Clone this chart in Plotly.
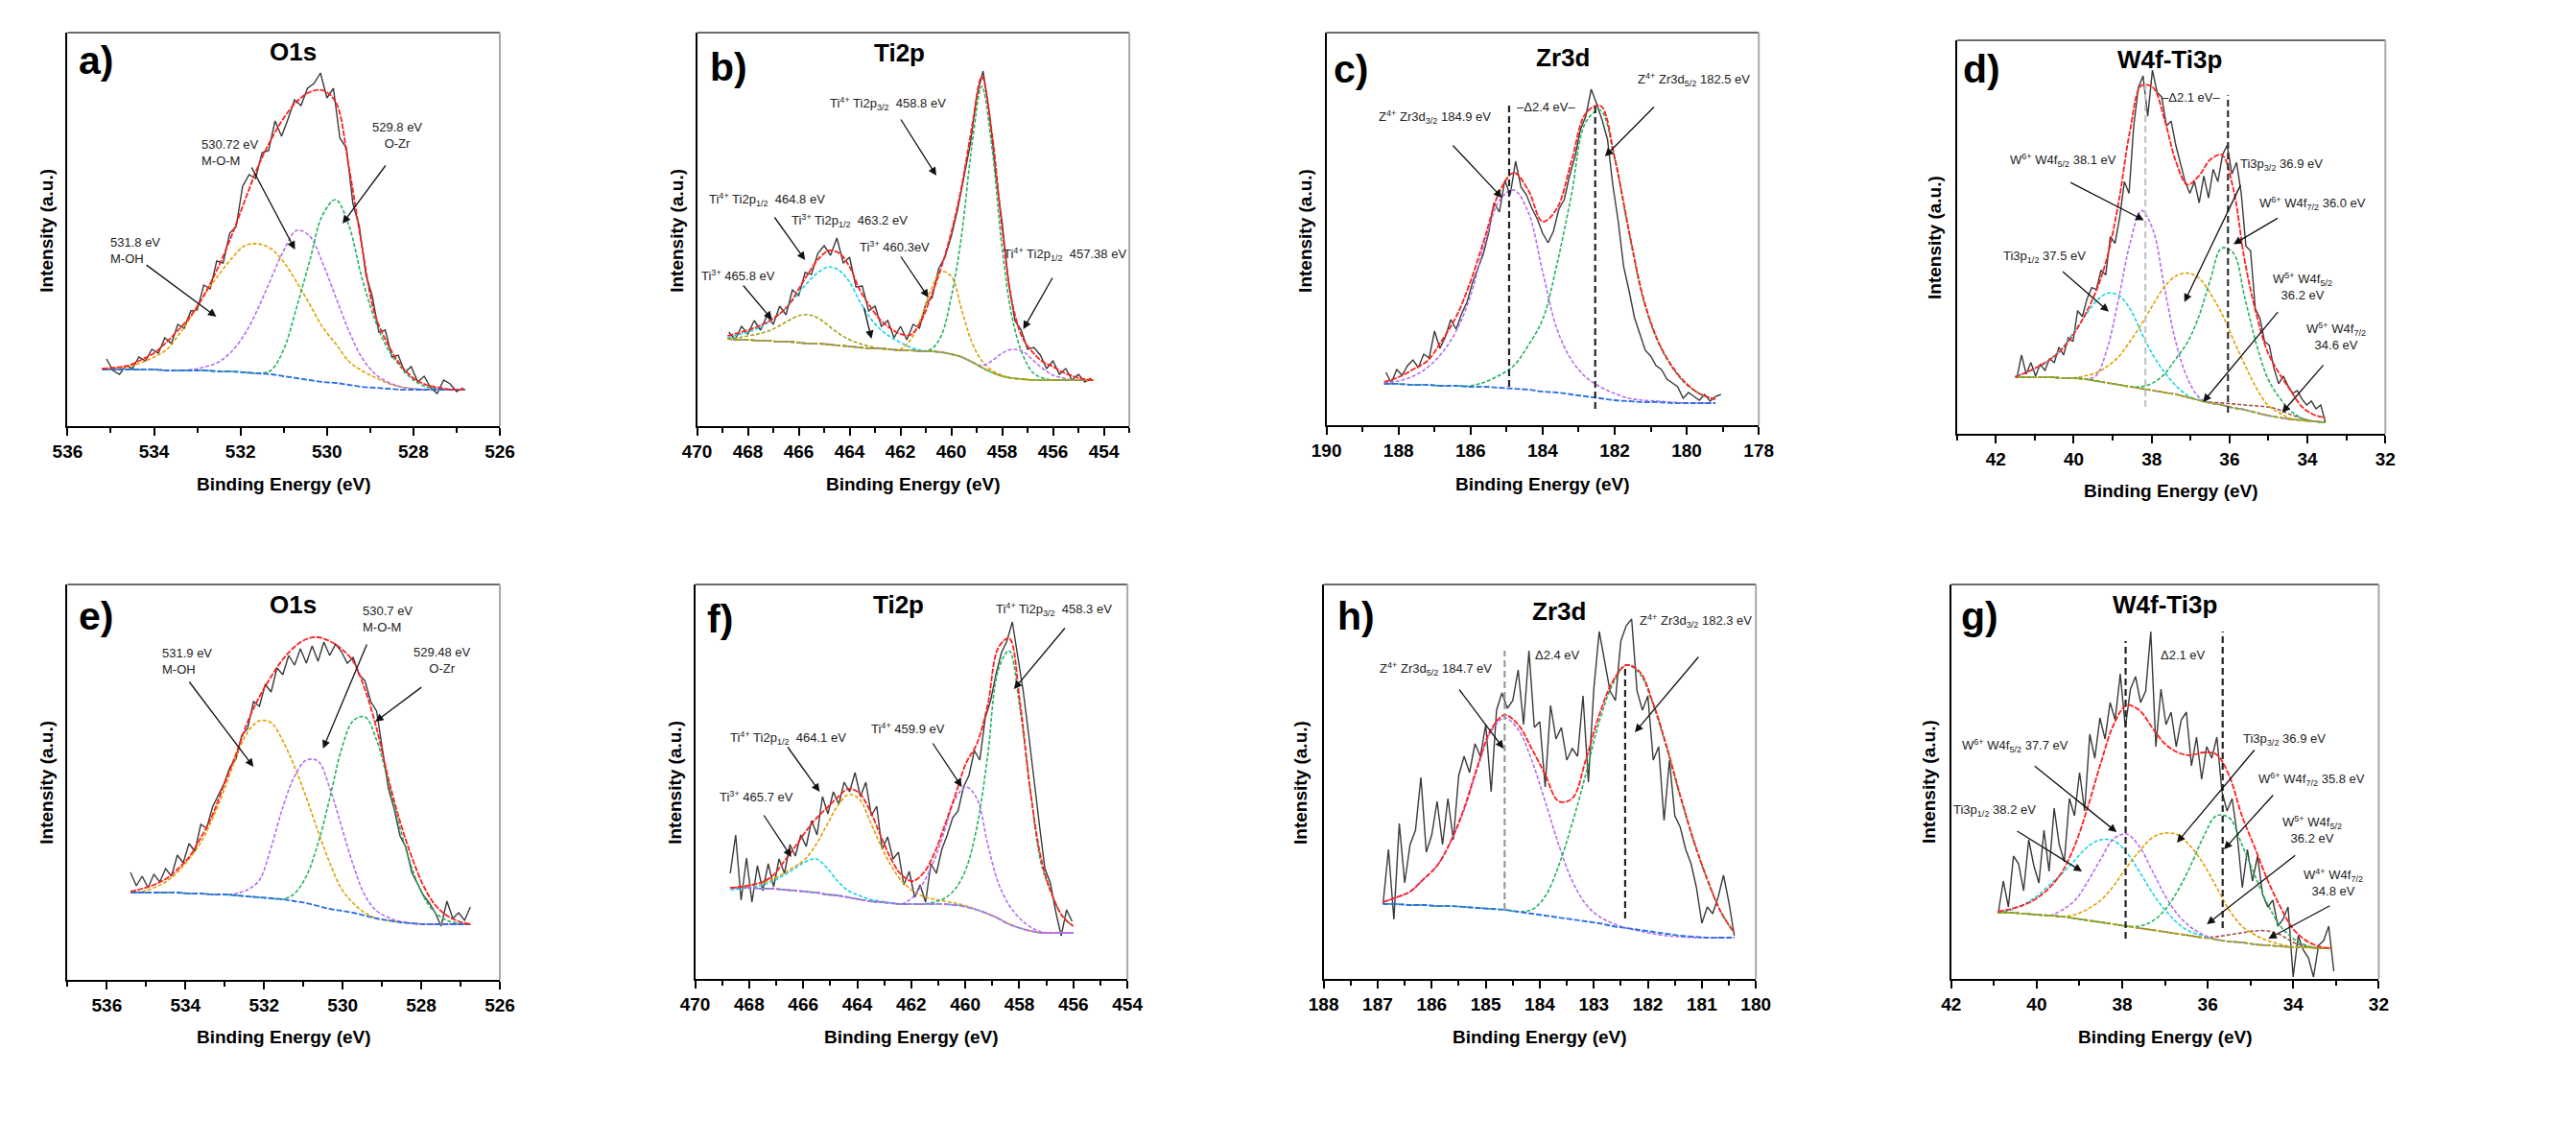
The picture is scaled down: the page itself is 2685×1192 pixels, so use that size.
import numpy as np
import plotly.graph_objects as go
from plotly.subplots import make_subplots

W, H = 2685, 1192
OFF = 8  # the page body adds an 8px margin around the figure
FONT = "Liberation Sans, Arial, sans-serif"

RED = "#ff1f1f"
ORANGE = "#e0a000"
PURPLE = "#b46ef0"
GREEN = "#22b35e"
CYAN = "#19d3e6"
BLUE = "#2a6ee8"
OLIVE = "#a3a21a"
BROWN = "#a0524a"
RAW = "#3a3a3a"

# ---------------- a) O1s (sample 1) ----------------
a_raw_span = (535.1, 526.85)
a_raw = [70, 58, 54, 63, 60, 72, 68, 80, 76, 92, 86, 106, 102, 120, 121, 147, 143, 172, 170, 201,
         208, 250, 262, 258, 285, 287, 318, 302, 320, 340, 334, 352, 357, 368, 342, 352, 300, 290, 232, 208,
         158, 135, 98, 100, 72, 74, 56, 62, 46, 52, 40, 34, 48, 44, 36, 40]
a_fit_span = (535.2, 526.8)
a_bg = [59, 59, 59, 59, 59, 58, 58, 58, 58, 57, 57, 56, 55, 54, 52, 50, 48, 46, 45, 43, 41, 40, 39, 38, 38, 38, 38, 38, 38]
a_env = [60, 61, 63, 69, 76, 88, 102, 118, 140, 167, 199, 235, 270, 298, 321, 338, 348, 350, 338, 272,
         190, 118, 86, 64, 50, 43, 40, 38, 38]
a_moh = [59, 60, 62, 66, 72, 80, 97, 117, 139, 158, 175, 188, 190, 185, 171, 150, 127, 103, 86, 68,
         58, 51, 45, 41, 39, 38, 38, 38, 38]
a_mom = [59, 59, 59, 59, 59, 58, 58, 59, 62, 67, 78, 96, 122, 153, 183, 204, 198, 170, 135, 100,
         72, 55, 46, 41, 39, 38, 38, 38, 38]
a_ozr = [59, 59, 59, 59, 59, 58, 58, 58, 58, 57, 57, 56, 55, 58, 80, 124, 172, 220, 236, 210,
         156, 112, 81, 62, 48, 41, 39, 38, 38]

# ---------------- b) Ti2p (sample 1) ----------------
b_raw_span = (468.75, 454.5)
b_raw = [98, 90, 104, 96, 110, 100, 115, 106, 125, 116, 142, 136, 160, 158, 180, 188, 178, 196, 170, 176,
         145, 146, 120, 125, 104, 110, 92, 104, 90, 106, 102, 128, 134, 164, 176, 198, 226, 262, 294, 344,
         370, 326, 262, 212, 150, 110, 100, 80, 82, 74, 60, 68, 54, 60, 48, 54, 46, 50]
b_fit_span = (468.8, 454.4)
b_bg = [91, 90, 90, 89, 89, 88, 88, 87, 86, 86, 85, 84, 83, 82, 81, 81, 80, 79, 79, 78,
        78, 77, 75, 72, 67, 61, 56, 52, 50, 49, 48, 48, 48, 48, 48, 48, 48]
b_env = [94, 97, 100, 104, 109, 116, 126, 143, 160, 175, 183, 180, 166, 142, 125, 111, 102, 96, 95, 109,
         135, 165, 202, 249, 310, 364, 305, 205, 128, 92, 77, 67, 62, 56, 52, 49, 48]
b_ti4_p12 = [92, 95, 98, 102, 108, 116, 126, 139, 151, 161, 166, 162, 150, 130, 113, 101, 93, 87, 82, 79,
             78, 77, 75, 72, 67, 61, 56, 52, 50, 49, 48, 48, 48, 48, 48, 48, 48]
b_ti3_4658 = [91, 92, 94, 96, 99, 104, 110, 115, 116, 112, 104, 96, 90, 86, 83, 81, 80, 79, 79, 78,
              78, 77, 75, 72, 67, 61, 56, 52, 50, 49, 48, 48, 48, 48, 48, 48, 48]
b_ti3_4603 = [91, 90, 90, 89, 89, 88, 88, 87, 86, 86, 85, 84, 83, 82, 81, 81, 80, 80, 90, 112,
              142, 161, 156, 122, 88, 68, 58, 53, 50, 49, 48, 48, 48, 48, 48, 48, 48]
b_ti4_p32 = [91, 90, 90, 89, 89, 88, 88, 87, 86, 86, 85, 84, 83, 82, 81, 81, 80, 79, 79, 78,
             80, 94, 135, 198, 290, 354, 290, 185, 112, 75, 56, 50, 48, 48, 48, 48, 48]
b_ti4_4574 = [91, 90, 90, 89, 89, 88, 88, 87, 86, 86, 85, 84, 83, 82, 81, 81, 80, 79, 79, 78,
              78, 77, 75, 72, 67, 63, 68, 76, 80, 78, 69, 60, 53, 50, 48, 48, 48]

# ---------------- c) Zr3d (sample 1) ----------------
c_raw_span = (188.35, 179.05)
c_raw = [55, 44, 58, 52, 62, 68, 60, 74, 70, 98, 80, 92, 110, 100, 116, 128, 148, 162, 178, 200,
         232, 222, 255, 240, 275, 248, 240, 226, 215, 200, 190, 202, 225, 235, 260, 280, 308, 322, 350, 335,
         318, 298, 250, 212, 165, 140, 112, 95, 78, 72, 62, 58, 48, 44, 40, 28, 34, 30, 26, 32,
         25, 30, 32]
c_fit_span = (188.4, 179.2)
c_bg = [43, 43, 42, 42, 41, 41, 40, 40, 39, 38, 37, 35, 34, 32, 30, 28, 26, 25, 24, 24, 23, 23, 23, 23]
c_env = [45, 50, 58, 67, 88, 113, 150, 196, 243, 263, 245, 212, 226, 275, 325, 333, 279, 202, 132, 88,
         61, 43, 32, 27]
c_zr_d32 = [44, 46, 51, 60, 75, 98, 135, 190, 234, 245, 222, 160, 100, 68, 50, 40, 33, 28, 26, 25,
            24, 23, 23, 23]
c_zr_d52 = [43, 43, 42, 42, 41, 41, 41, 45, 52, 62, 83, 110, 168, 240, 316, 328, 277, 200, 130, 87,
            60, 42, 32, 27]

# ---------------- d) W4f-Ti3p (sample 1) ----------------
d_raw_span = (41.46, 33.54)
d_raw = [58, 82, 62, 74, 60, 72, 66, 78, 74, 90, 82, 100, 96, 128, 122, 140, 152, 150, 170, 165,
         205, 198, 225, 262, 250, 320, 360, 372, 330, 378, 355, 350, 320, 325, 300, 282, 262, 250, 262, 240,
         268, 245, 275, 262, 290, 300, 270, 282, 250, 195, 190, 130, 120, 96, 92, 68, 52, 60, 50, 42,
         45, 36, 30, 34, 26, 30, 12]
d_fit_span = (41.5, 33.55)
d_bg = [59, 59, 59, 59, 58, 58, 57, 55, 53, 51, 49, 47, 45, 43, 41, 38, 35, 32, 30, 27,
        25, 22, 19, 17, 15, 14, 13, 12]
d_env = [59, 64, 70, 77, 87, 102, 122, 147, 183, 240, 315, 362, 360, 327, 283, 259, 268, 285, 290, 255,
         180, 125, 85, 63, 45, 28, 20, 17]
d_ti3p12 = [60, 64, 69, 77, 88, 104, 121, 137, 146, 144, 130, 105, 82, 64, 50, 40, 35, 32, 30, 27,
            25, 22, 19, 17, 15, 14, 13, 12]
d_w6_f52 = [59, 59, 59, 59, 58, 58, 57, 60, 88, 140, 198, 232, 212, 152, 95, 58, 38, 32, 30, 27,
            25, 22, 19, 17, 15, 14, 13, 12]
d_ti3p32 = [59, 59, 59, 59, 58, 58, 60, 63, 70, 80, 96, 114, 134, 153, 164, 167, 162, 146, 125, 98,
            72, 48, 30, 22, 16, 14, 13, 12]
d_w6_f72 = [59, 59, 59, 59, 58, 58, 57, 55, 53, 51, 49, 49, 53, 62, 78, 95, 122, 160, 193, 188,
            142, 94, 58, 38, 24, 16, 13, 12]
d_w5 = [59, 59, 59, 59, 58, 58, 57, 55, 53, 51, 49, 47, 45, 43, 41, 38, 35, 33, 32, 31,
        30, 29, 28, 25, 20, 16, 13, 12]

# ---------------- e) O1s (sample 2) ----------------
e_raw_span = (535.4, 526.75)
e_raw = [112, 98, 108, 96, 110, 102, 116, 108, 130, 122, 142, 134, 162, 158, 180, 192, 205, 222, 230, 255,
         262, 290, 285, 308, 300, 325, 318, 338, 328, 345, 330, 348, 332, 352, 338, 350, 342, 330, 336, 318,
         312, 290, 280, 240, 200, 178, 150, 138, 112, 100, 88, 80, 70, 56, 82, 64, 70, 62, 76]
e_fit_span = (535.4, 526.75)
e_bg = [91, 91, 91, 91, 91, 90, 90, 89, 89, 88, 87, 86, 85, 84, 82, 80, 77, 74, 72, 70,
        67, 64, 62, 60, 59, 58, 58, 58, 58, 58]
e_env = [92, 95, 99, 105, 115, 128, 148, 172, 204, 235, 269, 295, 316, 334, 347, 355, 357, 353, 345, 332,
         303, 262, 210, 165, 128, 98, 78, 67, 61, 58]
e_moh = [91, 92, 96, 102, 112, 126, 143, 168, 198, 232, 258, 270, 268, 249, 222, 190, 155, 122, 95, 80,
         70, 64, 62, 60, 59, 58, 58, 58, 58, 58]
e_mom = [91, 91, 91, 91, 91, 90, 90, 89, 89, 90, 94, 104, 138, 180, 212, 229, 228, 200, 160, 120,
         88, 72, 65, 61, 59, 58, 58, 58, 58, 58]
e_ozr = [91, 91, 91, 91, 91, 90, 90, 89, 89, 88, 87, 86, 85, 84, 90, 108, 142, 189, 240, 270,
         274, 250, 206, 158, 117, 87, 70, 62, 59, 58]

# ---------------- f) Ti2p (sample 2) ----------------
f_raw_span = (468.7, 456.05)
f_raw = [110, 150, 82, 126, 80, 118, 92, 120, 96, 125, 110, 140, 128, 150, 138, 165, 150, 190, 172, 195,
         182, 205, 195, 215, 190, 205, 170, 180, 135, 148, 125, 132, 98, 112, 85, 98, 80, 120, 110, 135,
         150, 168, 175, 200, 212, 238, 228, 272, 290, 318, 340, 352, 372, 335, 300, 255, 205, 160, 115, 100,
         70, 45, 72, 60]
f_fit_span = (468.7, 456.0)
f_bg = [95, 95, 95, 94, 94, 93, 92, 91, 90, 88, 87, 85, 83, 81, 80, 79, 78, 78, 78, 78,
        78, 77, 75, 72, 68, 63, 57, 53, 50, 48, 48, 48, 48]
f_env = [95, 96, 98, 101, 108, 122, 137, 153, 167, 178, 189, 198, 194, 176, 150, 125, 108, 102, 110, 130,
         160, 192, 225, 245, 285, 345, 355, 290, 195, 125, 88, 65, 55]
f_ti4_p12 = [95, 96, 98, 100, 104, 110, 117, 125, 140, 160, 180, 192, 188, 165, 140, 118, 102, 92, 86, 83,
             81, 79, 76, 72, 68, 63, 57, 53, 50, 48, 48, 48, 48]
f_ti3_4657 = [93, 94, 96, 98, 102, 108, 115, 122, 125, 116, 102, 92, 87, 83, 81, 79, 78, 78, 78, 78,
              78, 77, 75, 72, 68, 63, 57, 53, 50, 48, 48, 48, 48]
f_ti4_4599 = [95, 95, 95, 94, 94, 93, 92, 91, 90, 88, 87, 85, 83, 81, 80, 79, 78, 85, 100, 123,
              155, 188, 200, 188, 141, 100, 77, 63, 54, 49, 48, 48, 48]
f_ti4_p32 = [95, 95, 95, 94, 94, 93, 92, 91, 90, 88, 87, 85, 83, 81, 80, 79, 78, 78, 78, 80,
             84, 94, 115, 158, 232, 322, 342, 283, 195, 120, 88, 65, 55]

# ---------------- h) Zr3d (sample 2) ----------------
h_raw_span = (186.9, 180.4)
h_raw = [78, 135, 62, 162, 100, 140, 155, 210, 132, 150, 185, 140, 188, 145, 212, 232, 215, 245, 232, 265,
         195, 280, 298, 282, 290, 322, 265, 342, 262, 268, 200, 285, 250, 262, 228, 240, 232, 295, 205, 302,
         362, 330, 300, 290, 352, 368, 375, 300, 280, 295, 228, 242, 165, 228, 170, 158, 135, 120, 95, 58,
         75, 68, 85, 108, 80, 45]
h_fit_span = (186.9, 180.4)
h_bg = [78, 78, 77, 77, 76, 76, 75, 74, 73, 72, 70, 68, 66, 64, 62, 60, 58, 55, 53, 51,
        49, 47, 45, 44, 43, 43, 43]
h_env = [80, 85, 91, 104, 118, 143, 178, 222, 260, 275, 265, 240, 213, 185, 188, 228, 275, 310, 327, 320,
         287, 242, 191, 144, 104, 70, 48]
h_zr_d32 = [80, 85, 91, 104, 118, 143, 176, 220, 258, 272, 260, 228, 185, 140, 102, 78, 65, 58, 53, 50,
            47, 45, 44, 43, 43, 43, 43]
h_zr_d52 = [78, 78, 77, 77, 76, 76, 75, 74, 73, 72, 70, 72, 86, 118, 162, 213, 268, 307, 327, 318,
            285, 240, 190, 143, 103, 70, 48]

# ---------------- g) W4f-Ti3p (sample 2) ----------------
g_raw_span = (40.9, 33.05)
g_raw = [68, 102, 75, 128, 120, 92, 145, 118, 100, 155, 112, 178, 140, 122, 188, 170, 215, 175, 255, 230,
         272, 250, 288, 270, 318, 262, 302, 315, 288, 300, 362, 242, 302, 265, 278, 242, 270, 278, 222, 252,
         208, 242, 230, 252, 195, 175, 188, 150, 95, 135, 102, 128, 88, 75, 82, 55, 62, 75, 2, 45,
         30, 22, 2, 35, 40, 55, 8]
g_fit_span = (40.9, 33.1)
g_bg = [69, 69, 68, 67, 66, 65, 63, 61, 59, 57, 55, 53, 51, 49, 47, 45, 43, 41, 39, 38,
        36, 35, 34, 33, 33, 32, 32]
g_env = [70, 73, 77, 84, 95, 112, 140, 180, 225, 265, 285, 280, 262, 245, 236, 233, 236, 234, 212, 170,
         137, 103, 75, 52, 40, 34, 32]
g_ti3p12 = [69, 72, 78, 86, 98, 110, 124, 138, 145, 144, 132, 112, 90, 72, 58, 49, 45, 41, 39, 38,
            36, 35, 34, 33, 33, 32, 32]
g_w6_f52 = [69, 69, 68, 67, 66, 72, 82, 102, 125, 146, 151, 138, 113, 87, 67, 54, 46, 41, 39, 38,
            36, 35, 34, 33, 33, 32, 32]
g_ti3p32 = [69, 69, 68, 67, 66, 65, 67, 73, 82, 97, 116, 133, 147, 152, 150, 138, 120, 96, 72, 55,
            46, 40, 36, 33, 33, 32, 32]
g_w6_f72 = [69, 69, 68, 67, 66, 65, 63, 61, 59, 57, 55, 55, 60, 72, 92, 118, 148, 170, 168, 140,
            108, 78, 55, 42, 35, 32, 32]
g_w45 = [69, 69, 68, 67, 66, 65, 63, 61, 59, 57, 55, 53, 51, 49, 47, 45, 43, 44, 46, 48,
         50, 50, 46, 38, 34, 32, 32]


def sup(s):
    return "<sup>" + s + "</sup>"


def sub(s):
    return "<sub>" + s + "</sub>"


# layout of each panel: pixel box (left, top, right, bottom), x range, y extent
panels = [
    dict(pos=(1, 1), box=(55, 34, 511, 444), xr=(536, 526), dt=2, mdt=1, ytop=410,
         letter="a)", lpos=(65, 63), title="O1s", tpos=(293, 54), ylab=(32, 240), xlab=505,
         raw=(a_raw_span, a_raw), span=a_fit_span, bg=(a_bg, BLUE),
         comps=[(a_moh, ORANGE), (a_mom, PURPLE), (a_ozr, GREEN)], env=a_env,
         labels=[("530.72 eV<br>M-O-M", 194, 159, "left"), ("529.8 eV<br>O-Zr", 403, 141, "center"),
                 ("531.8 eV<br>M-OH", 98, 261, "left")],
         arrows=[(531.76, 271, 530.74, 184), (528.62, 273, 529.64, 211), (534.21, 169, 532.56, 114)],
         vlines=[]),
    dict(pos=(1, 2), box=(719, 34, 1175, 444), xr=(470, 453), dt=2, mdt=1, ytop=410,
         letter="b)", lpos=(731, 70), title="Ti2p", tpos=(933, 55), ylab=(697, 240), xlab=505,
         raw=(b_raw_span, b_raw), span=b_fit_span, bg=(b_bg, OLIVE),
         comps=[(b_ti3_4658, OLIVE), (b_ti4_p12, CYAN), (b_ti3_4603, ORANGE), (b_ti4_p32, GREEN),
                (b_ti4_4574, PURPLE)], env=b_env,
         labels=[("Ti" + sup("4+") + " Ti2p" + sub("3/2") + "  458.8 eV", 920, 108, "center"),
                 ("Ti" + sup("4+") + " Ti2p" + sub("1/2") + "  464.8 eV", 793, 208, "center"),
                 ("Ti" + sup("3+") + " Ti2p" + sub("1/2") + "  463.2 eV", 880, 230, "center"),
                 ("Ti" + sup("3+") + " 460.3eV", 927, 257, "center"),
                 ("Ti" + sup("3+") + " 465.8 eV", 762, 287, "center"),
                 ("Ti" + sup("4+") + " Ti2p" + sub("1/2") + "  457.38 eV", 1107, 265, "center")],
         arrows=[(462.02, 321, 460.59, 261), (466.99, 219, 465.75, 173), (463.45, 125, 463.14, 91),
                 (462.02, 178, 460.9, 134), (468.23, 148, 467.05, 111), (455.99, 156, 457.17, 101)],
         vlines=[]),
    dict(pos=(1, 3), box=(1383, 34, 1839, 443), xr=(190, 178), dt=2, mdt=1, ytop=409,
         letter="c)", lpos=(1388, 72), title="Zr3d", tpos=(1632, 60), ylab=(1360, 240), xlab=505,
         raw=(c_raw_span, c_raw), span=c_fit_span, bg=(c_bg, BLUE),
         comps=[(c_zr_d32, PURPLE), (c_zr_d52, GREEN)], env=c_env,
         labels=[("Z" + sup("4+") + " Zr3d" + sub("3/2") + " 184.9 eV", 1497, 122, "center"),
                 ("Z" + sup("4+") + " Zr3d" + sub("5/2") + " 182.5 eV", 1770, 83, "center"),
                 ("\u2013\u03942.4 eV\u2013", 1615, 112, "center")],
         arrows=[(186.53, 293, 185.13, 237), (180.87, 333, 182.27, 280)],
         vlines=[(184.93, 40, 333, "#222"), (182.54, 17, 333, "#222")]),
    dict(pos=(1, 4), box=(2048, 42, 2500, 452), xr=(43, 32), dt=2, mdt=1, ytop=409,
         letter="d)", lpos=(2052, 72), title="W4f-Ti3p", tpos=(2272, 62), ylab=(2024, 247), xlab=512,
         raw=(d_raw_span, d_raw), span=d_fit_span, bg=(d_bg, OLIVE),
         comps=[(d_w5, BROWN), (d_ti3p12, CYAN), (d_w6_f52, PURPLE), (d_ti3p32, ORANGE), (d_w6_f72, GREEN)],
         env=d_env,
         labels=[("W" + sup("6+") + " W4f" + sub("5/2") + " 38.1 eV", 2160, 167, "center"),
                 ("Ti3p" + sub("1/2") + " 37.5 eV", 2140, 267, "center"),
                 ("Ti3p" + sub("3/2") + " 36.9 eV", 2390, 172, "center"),
                 ("W" + sup("6+") + " W4f" + sub("7/2") + " 36.0 eV", 2423, 212, "center"),
                 ("W" + sup("5+") + " W4f" + sub("5/2") + "<br>36.2 eV", 2413, 298, "center"),
                 ("W" + sup("5+") + " W4f" + sub("7/2") + "<br>34.6 eV", 2448, 350, "center"),
                 ("\u2013\u03942.1 eV\u2013", 2295, 102, "center")],
         arrows=[(40.12, 262, 38.2, 222), (40.32, 170, 39.1, 127), (35.7, 260, 37.16, 137),
                 (34.73, 225, 35.9, 197), (34.73, 128, 36.68, 33), (33.56, 73, 34.65, 22)],
         vlines=[(38.16, 28, 367, "#c4c4c4"), (36.04, 22, 352, "#333")]),
    dict(pos=(2, 1), box=(55, 609, 511, 1021), xr=(537, 526), dt=2, mdt=1, ytop=412,
         letter="e)", lpos=(65, 642), title="O1s", tpos=(293, 630), ylab=(32, 815), xlab=1080,
         raw=(e_raw_span, e_raw), span=e_fit_span, bg=(e_bg, BLUE),
         comps=[(e_moh, ORANGE), (e_mom, PURPLE), (e_ozr, GREEN)], env=e_env,
         labels=[("531.9 eV<br>M-OH", 153, 689, "left"), ("530.7 eV<br>M-O-M", 364, 645, "left"),
                 ("529.48 eV<br>O-Zr", 450, 688, "center")],
         arrows=[(533.93, 312, 532.27, 222), (529.37, 351, 530.5, 241), (527.96, 306, 529.17, 269)],
         vlines=[]),
    dict(pos=(2, 2), box=(717, 609, 1173, 1020), xr=(470, 454), dt=2, mdt=1, ytop=411,
         letter="f)", lpos=(728, 645), title="Ti2p", tpos=(932, 630), ylab=(695, 815), xlab=1080,
         raw=(f_raw_span, f_raw), span=f_fit_span, bg=(f_bg, PURPLE),
         comps=[(f_ti3_4657, CYAN), (f_ti4_p12, ORANGE), (f_ti4_4599, PURPLE), (f_ti4_p32, GREEN)],
         env=f_env,
         labels=[("Ti" + sup("4+") + " Ti2p" + sub("3/2") + "  458.3 eV", 1095, 635, "center"),
                 ("Ti" + sup("4+") + " 459.9 eV", 942, 759, "center"),
                 ("Ti" + sup("4+") + " Ti2p" + sub("1/2") + "  464.1 eV", 815, 769, "center"),
                 ("Ti" + sup("3+") + " 465.7 eV", 782, 830, "center")],
         arrows=[(456.27, 367, 458.2, 302), (461.24, 247, 460.13, 200), (466.61, 243, 465.39, 195),
                 (467.49, 172, 466.44, 127)],
         vlines=[]),
    dict(pos=(2, 3), box=(1380, 609, 1836, 1020), xr=(188, 180), dt=1, mdt=0.5, ytop=411,
         letter="h)", lpos=(1393, 642), title="Zr3d", tpos=(1628, 637), ylab=(1355, 815), xlab=1080,
         raw=(h_raw_span, h_raw), span=h_fit_span, bg=(h_bg, BLUE),
         comps=[(h_zr_d32, PURPLE), (h_zr_d52, GREEN)], env=h_env,
         labels=[("Z" + sup("4+") + " Zr3d" + sub("5/2") + " 184.7 eV", 1498, 697, "center"),
                 ("Z" + sup("4+") + " Zr3d" + sub("3/2") + " 182.3 eV", 1773, 647, "center"),
                 ("\u03942.4 eV", 1627, 682, "center")],
         arrows=[(185.51, 303, 184.67, 240), (181.04, 337, 182.24, 257)],
         vlines=[(184.65, 72, 342, "#999"), (182.42, 63, 323, "#222")]),
    dict(pos=(2, 4), box=(2042, 609, 2493, 1020), xr=(42, 32), dt=2, mdt=1, ytop=411,
         letter="g)", lpos=(2050, 642), title="W4f-Ti3p", tpos=(2267, 630), ylab=(2018, 815), xlab=1080,
         raw=(g_raw_span, g_raw), span=g_fit_span, bg=(g_bg, OLIVE),
         comps=[(g_w45, BROWN), (g_ti3p12, CYAN), (g_w6_f52, PURPLE), (g_ti3p32, ORANGE), (g_w6_f72, GREEN)],
         env=g_env,
         labels=[("W" + sup("6+") + " W4f" + sub("5/2") + " 37.7 eV", 2110, 777, "center"),
                 ("Ti3p" + sub("1/2") + " 38.2 eV", 2088, 844, "center"),
                 ("Ti3p" + sub("3/2") + " 36.9 eV", 2393, 770, "center"),
                 ("W" + sup("6+") + " W4f" + sub("7/2") + " 35.8 eV", 2422, 812, "center"),
                 ("W" + sup("5+") + " W4f" + sub("5/2") + "<br>36.2 eV", 2423, 864, "center"),
                 ("W" + sup("4+") + " W4f" + sub("7/2") + "<br>34.8 eV", 2445, 919, "center"),
                 ("\u03942.1 eV", 2287, 682, "center")],
         arrows=[(40.08, 223, 38.13, 153), (40.49, 155, 38.94, 112), (34.88, 240, 36.72, 142),
                 (34.44, 193, 35.62, 135), (33.92, 130, 36.02, 57), (33.11, 77, 34.58, 42)],
         vlines=[(37.92, 42, 352, "#222"), (35.65, 53, 362, "#222")]),
]


def px(x):
    return (x - OFF) / W


def py(y):
    return 1 - (y - OFF) / H


fig = make_subplots(rows=2, cols=4)
annotations = []
shapes = []

for n, p in enumerate(panels, start=1):
    r, c = p["pos"]
    xref = "x" if n == 1 else f"x{n}"
    yref = "y" if n == 1 else f"y{n}"

    (r0, r1), raw = p["raw"]
    fig.add_trace(go.Scatter(x=np.linspace(r0, r1, len(raw)), y=raw, mode="lines",
                             line=dict(color=RAW, width=1.4), showlegend=False), row=r, col=c)

    bg_vals, bg_col = p["bg"]
    fx = np.linspace(p["span"][0], p["span"][1], len(bg_vals))
    for vals, col in p["comps"]:
        fig.add_trace(go.Scatter(x=fx, y=vals, mode="lines", line_shape="spline",
                                 line=dict(color=col, width=1.6, dash="4px,2px"),
                                 showlegend=False), row=r, col=c)
    fig.add_trace(go.Scatter(x=fx, y=bg_vals, mode="lines", line_shape="spline",
                             line=dict(color=bg_col, width=1.8, dash="6px,2px"),
                             showlegend=False), row=r, col=c)
    fig.add_trace(go.Scatter(x=fx, y=p["env"], mode="lines", line_shape="spline",
                             line=dict(color=RED, width=1.8, dash="6px,1.5px"),
                             showlegend=False), row=r, col=c)

    L, T, R, B = p["box"]
    fig.update_xaxes(row=r, col=c, domain=[px(L), px(R)], range=list(p["xr"]),
                     showline=True, linecolor="black", linewidth=2, mirror=False,
                     ticks="outside", ticklen=8, tickwidth=2, tickcolor="black",
                     tick0=0, dtick=p["dt"], showgrid=False, zeroline=False,
                     minor=dict(dtick=p["mdt"], ticks="outside", ticklen=5, tickwidth=1.5,
                                tickcolor="black", showgrid=False),
                     tickfont=dict(family=FONT, size=19, color="black", weight="bold"))
    fig.update_yaxes(row=r, col=c, domain=[py(B), py(T)], range=[0, p["ytop"]],
                     showline=True, linecolor="black", linewidth=2, mirror=False,
                     showticklabels=False, ticks="", showgrid=False, zeroline=False)

    # top and right frame lines
    shapes.append(dict(type="line", xref="paper", yref="paper", x0=px(L), x1=px(R), y0=py(T), y1=py(T),
                       line=dict(color="#6a6a6a", width=2)))
    shapes.append(dict(type="line", xref="paper", yref="paper", x0=px(R), x1=px(R), y0=py(T), y1=py(B),
                       line=dict(color="#a8a8a8", width=2)))

    for e, v0, v1, col in p["vlines"]:
        shapes.append(dict(type="line", xref=xref, yref=yref, x0=e, x1=e, y0=v0, y1=v1,
                           line=dict(color=col, width=2.2, dash="7px,4px")))

    annotations.append(dict(text=p["letter"], x=px(p["lpos"][0]), y=py(p["lpos"][1]), xref="paper",
                            yref="paper", xanchor="left", yanchor="middle", showarrow=False,
                            font=dict(family=FONT, size=41, color="black", weight="bold")))
    annotations.append(dict(text=p["title"], x=px(p["tpos"][0]), y=py(p["tpos"][1]), xref="paper",
                            yref="paper", xanchor="center", yanchor="middle", showarrow=False,
                            font=dict(family=FONT, size=26, color="black", weight="bold")))
    annotations.append(dict(text="Binding Energy (eV)", x=px((L + R) / 2), y=py(p["xlab"]), xref="paper",
                            yref="paper", xanchor="center", yanchor="middle", showarrow=False,
                            font=dict(family=FONT, size=19, color="black", weight="bold")))
    annotations.append(dict(text="Intensity (a.u.)", x=px(p["ylab"][0]), y=py(p["ylab"][1]), xref="paper",
                            yref="paper", xanchor="center", yanchor="middle", showarrow=False,
                            textangle=-90,
                            font=dict(family=FONT, size=19, color="black", weight="bold")))

    for txt, lx, ly, al in p["labels"]:
        annotations.append(dict(text=txt, x=px(lx), y=py(ly), xref="paper", yref="paper",
                                xanchor=al if al == "left" else "center", yanchor="middle",
                                align=al, showarrow=False,
                                font=dict(family=FONT, size=13, color="#222")))
    for e0, v0, e1, v1 in p["arrows"]:
        annotations.append(dict(text="", x=e1, y=v1, ax=e0, ay=v0, xref=xref, yref=yref,
                                axref=xref, ayref=yref, showarrow=True, arrowhead=2,
                                arrowsize=1.3, arrowwidth=1.3, arrowcolor="#111"))

fig.update_layout(width=W, height=H, margin=dict(l=0, r=0, t=0, b=0),
                  paper_bgcolor="white", plot_bgcolor="white",
                  font=dict(family=FONT, color="black"),
                  annotations=annotations, shapes=shapes, showlegend=False)

fig.write_html("out.html")
